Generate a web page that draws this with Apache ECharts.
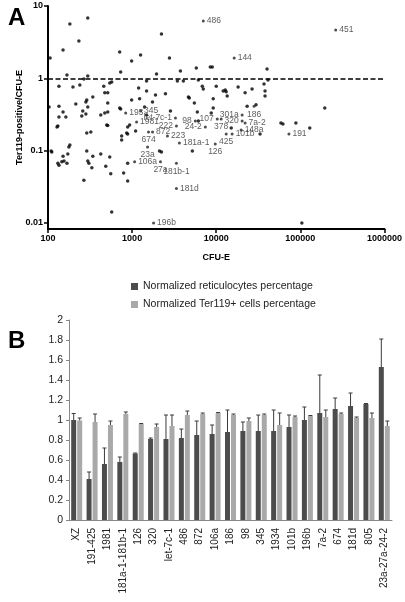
<!DOCTYPE html>
<html><head><meta charset="utf-8">
<script src="https://cdn.jsdelivr.net/npm/echarts@6/dist/echarts.min.js"></script>
<style>html,body{margin:0;padding:0;background:#fff}#c{width:405px;height:602px}</style>
</head><body><div id="c"></div>
<script>
// ---------- Panel A data ----------
const scatterX = [106,182,297,151,233,168,135,198,239,297,267,103,135,151,135,163,214,259,289,297,282,252,341,424,473,460,473,513,542,572,513,513,499,513,131,128,711,731,987,1261,2232,2779,1950,3750,5794,1485,3451,4064,6124,6823,7015,1194,1485,1898,2489,987,1227,1406,1748,711,731,2855,4667,5957,8492,8974,40180,41210,10000,12100,12790,13120,13490,18200,22030,26670,36980,38020,38020,4786,9204,5495,9204,23280,29720,195000,8730,58750,62090,88510,129400,5200,104200,33190,15070,6124,1100,289,323,861,885,751,751,182,177,109,111,289,424,341,542,151,172,146,155,131,135,168,297,306,332,486,885,267,557,793,885,572,2115,2232,934,885,1485,282];
const scatterY = [1.91,5.64,6.82,2.47,3.28,1.11,0.78,0.76,0.81,1.08,0.98,0.40,0.41,0.343,0.292,0.292,0.44,0.353,0.50,0.40,0.321,0.301,0.55,0.311,0.332,0.78,0.63,0.63,0.86,0.89,0.456,0.343,0.226,0.222,0.219,0.212,2.31,1.22,1.74,2.10,4.10,1.91,1.15,1.26,1.39,0.92,0.92,0.92,0.95,0.78,0.71,0.735,0.67,0.59,0.61,0.50,0.52,0.40,0.47,0.39,0.377,0.353,0.55,0.343,1.44,1.44,1.35,0.95,0.78,0.67,0.69,0.65,0.57,0.76,0.63,0.71,0.835,0.67,0.57,0.535,0.52,0.456,0.39,0.41,0.43,0.39,0.332,0.241,0.234,0.241,0.206,0.099,0.010,0.170,0.206,0.257,0.187,0.176,0.181,0.176,0.170,0.160,0.140,0.120,0.112,0.099,0.096,0.099,0.090,0.084,0.082,0.084,0.090,0.070,0.072,0.067,0.063,0.067,0.072,0.067,0.058,0.061,0.067,0.039,0.048,0.049,0.038,0.0142,0.099,0.096,0.226,0.212,0.311,0.47];
const labeledNames = ['486','451','144','191','181d','196b','106a','23a','674','27a','181b-1','126','181a-1','193','345','let-7c-1','1981','222','872','223','98','107','378','24-2','301a','186','320','7a-2','148a','425','101b'];
const labeledX = [7015,263000,16330,73110,3362,1797,1071,1525,1567,2173,3362,9727,3648,838,1261,3272,1130,3362,1748,2630,5636,10280,11450,7413,20320,28180,20320,22030,19770,13120,15450];
const labeledY = [6.21,4.66,1.91,0.170,0.030,0.010,0.070,0.112,0.181,0.070,0.067,0.124,0.128,0.332,0.353,0.283,0.249,0.219,0.181,0.160,0.257,0.274,0.274,0.212,0.311,0.41,0.257,0.241,0.193,0.170,0.170];
const yTicksA = [0.01,0.1,1,10];
const thresholdA = 1;

// ---------- Panel B data ----------
const categoriesB = ['XZ','191-425','1981','181a-1-181b-1','126','320','let-7c-1','486','872','106a','186','98','345','1934','101b','196b','7a-2','674','181d','805','23a-27a-24-2'];
const reticMean = [1.00,0.41,0.56,0.58,0.665,0.81,0.81,0.82,0.85,0.86,0.88,0.89,0.89,0.89,0.93,1.00,1.07,1.11,1.14,1.16,1.53];
const reticErr  = [0.065,0.07,0.16,0.05,0.005,0.01,0.24,0.09,0.14,0.09,0.22,0.09,0.16,0.21,0.12,0.13,0.38,0.11,0.13,0.005,0.28];
const terMean   = [0.995,0.98,0.95,1.06,0.96,0.93,0.94,1.05,1.06,1.07,1.05,0.99,1.05,0.95,1.03,1.04,1.03,1.06,1.02,1.02,0.94];
const terErr    = [0.025,0.08,0.04,0.02,0.005,0.03,0.11,0.04,0.01,0.005,0.01,0.03,0.01,0.12,0.01,0.005,0.07,0.01,0.01,0.05,0.05];
const seriesNamesB = ['Normalized reticulocytes percentage','Normalized Ter119+ cells percentage'];

// ---------- styles ----------
const labelPlacement = {
  '486':'right','451':'right','144':'right','191':'right','181d':'right','196b':'right','106a':'right',
  '181a-1':'right','193':'right','345':'right','1981':'right','872':'right','223':'right','7a-2':'right',
  '148a':'right','101b':'right',
  '23a':'bottom','674':'bottom','27a':'bottom','181b-1':'bottom','126':'bottom','378':'bottom','425':'bottom','186':'bottom',
  'let-7c-1':'left','222':'left','98':'left','107':'left','24-2':'left','301a':'left','320':'left'
};
const FF = 'Liberation Sans';
const DARK = '#4c4c4c', LIGHT = '#a9a9a9';

const chart = echarts.init(document.getElementById('c'), null, {renderer:'canvas'});

function errorSeries(mean, err, side) {
  return {
    type: 'custom', xAxisIndex: 1, yAxisIndex: 1, silent: true, z: 5,
    data: mean.map((m, i) => [i, m, err[i]]),
    renderItem: function (params, api) {
      const i = api.value(0), m = api.value(1), e = api.value(2);
      const b = api.coord([i, m]);
      const t = api.coord([i, m + e]);
      const x = b[0] + side * 3;
      const st = {stroke: '#3a3a3a', lineWidth: 1};
      return {type: 'group', children: [
        {type: 'line', shape: {x1: x, y1: b[1], x2: x, y2: t[1]}, style: st},
        {type: 'line', shape: {x1: x - 2, y1: t[1], x2: x + 2, y2: t[1]}, style: st}
      ]};
    }
  };
}

const option = {
  animation: false,
  textStyle: {fontFamily: FF},
  title: [
    {text: 'A', left: 3, top: 1, textStyle: {fontSize: 24, fontWeight: 'bold', color: '#000', fontFamily: FF}},
    {text: 'B', left: 3, top: 324, textStyle: {fontSize: 24, fontWeight: 'bold', color: '#000', fontFamily: FF}}
  ],
  legend: {
    orient: 'vertical', left: 126, top: 276, itemWidth: 7, itemHeight: 7, itemGap: 7, icon: 'rect',
    textStyle: {fontSize: 10.5, color: '#222', fontFamily: FF},
    data: seriesNamesB
  },
  grid: [
    {left: 48, top: 6, width: 338, height: 223},
    {left: 69, top: 320, width: 323, height: 200}
  ],
  xAxis: [
    {gridIndex: 0, type: 'log', logBase: 10, min: 100, max: 1000000,
     axisLine: {lineStyle: {color: '#000', width: 2}},
     axisTick: {length: 4, lineStyle: {color: '#000', width: 1.5}},
     minorTick: {show: false},
     axisLabel: {fontSize: 9, fontWeight: 'bold', color: '#000', margin: 5, fontFamily: FF,
                 formatter: v => String(Math.round(v))},
     splitLine: {show: false},
     name: 'CFU-E', nameLocation: 'middle', nameGap: 24, nameMoveOverlap: false,
     nameTextStyle: {fontSize: 9, fontWeight: 'bold', color: '#000', fontFamily: FF}},
    {gridIndex: 1, type: 'category', data: categoriesB,
     axisLine: {lineStyle: {color: '#888'}},
     axisTick: {length: 4, lineStyle: {color: '#888'}},
     axisLabel: {rotate: 90, interval: 0, fontSize: 10, color: '#222', margin: 8, fontFamily: FF}}
  ],
  yAxis: [
    {gridIndex: 0, type: 'log', logBase: 10, min: 0.00826, max: 10,
     axisLine: {lineStyle: {color: '#000', width: 2}},
     axisTick: {length: 4, lineStyle: {color: '#000', width: 1.5}, customValues: yTicksA},
     axisLabel: {fontSize: 9, fontWeight: 'bold', color: '#000', margin: 5, fontFamily: FF,
                 customValues: yTicksA, formatter: v => String(+(+v).toPrecision(3))},
     splitLine: {show: false},
     name: 'Ter119-positive/CFU-E', nameLocation: 'middle', nameGap: 24, nameRotate: 90, nameMoveOverlap: false,
     nameTextStyle: {fontSize: 9, fontWeight: 'bold', color: '#000', fontFamily: FF}},
    {gridIndex: 1, type: 'value', min: 0, max: 2, interval: 0.2,
     axisLine: {show: true, lineStyle: {color: '#888'}},
     axisTick: {show: true, length: 3, lineStyle: {color: '#888'}},
     axisLabel: {fontSize: 10.5, color: '#222', margin: 6, fontFamily: FF},
     splitLine: {show: false}}
  ],
  series: [
    {type: 'scatter', xAxisIndex: 0, yAxisIndex: 0, symbolSize: 3.5,
     itemStyle: {color: '#000'}, silent: true,
     data: scatterX.map((x, i) => [x, scatterY[i]]),
     markLine: {silent: true, symbol: 'none', animation: false,
       lineStyle: {type: [5, 2.5], color: '#000', width: 1.5},
       label: {show: false}, data: [{yAxis: thresholdA}]}},
    {type: 'scatter', xAxisIndex: 0, yAxisIndex: 0, symbolSize: 3, silent: true,
     itemStyle: {color: '#222'},
     label: {show: true, formatter: '{b}', fontSize: 8.5, color: '#333', distance: 2, fontFamily: FF},
     data: labeledNames.map((n, i) => ({name: n, value: [labeledX[i], labeledY[i]],
       label: {position: labelPlacement[n] || 'right'}}))},
    {type: 'bar', name: seriesNamesB[0], xAxisIndex: 1, yAxisIndex: 1, data: reticMean,
     barWidth: 5, barGap: '20%', itemStyle: {color: DARK}},
    {type: 'bar', name: seriesNamesB[1], xAxisIndex: 1, yAxisIndex: 1, data: terMean,
     barWidth: 5, barGap: '20%', itemStyle: {color: LIGHT}},
    errorSeries(reticMean, reticErr, -1),
    errorSeries(terMean, terErr, 1)
  ]
};
chart.setOption(option);
</script>
</body></html>
